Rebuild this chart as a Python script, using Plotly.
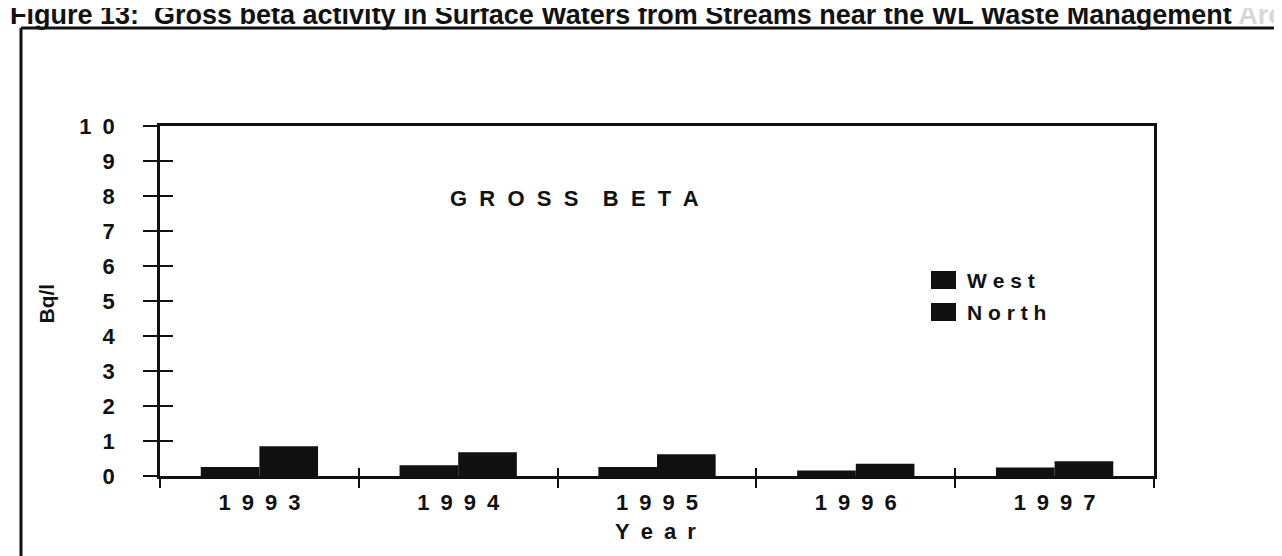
import plotly.graph_objects as go

years = ["1993", "1994", "1995", "1996", "1997"]
west = [0.26, 0.31, 0.26, 0.16, 0.24]
north = [0.85, 0.68, 0.62, 0.35, 0.42]
series_names = ["West", "North"]
y_ticks = list(range(0, 11))
y_ticktext = ["0", "1", "2", "3", "4", "5", "6", "7", "8", "9", "1\u20020"]

SEP = "\u2002"


def spaced(s, sep=SEP):
    return sep.join(list(s))


W, H = 1282, 556
L, R, T, B = 152, 1146, 118, 468
pw, ph = R - L, B - T


def px(x):
    return (x - L) / pw


def py(y):
    return (B - y) / ph


FONT = "Liberation Sans, Arial, sans-serif"
INK = "#111111"

fig = go.Figure()
fig.add_trace(go.Bar(x=years, y=west, name=series_names[0], marker=dict(color=INK, line=dict(width=0))))
fig.add_trace(go.Bar(x=years, y=north, name=series_names[1], marker=dict(color=INK, line=dict(width=0))))
# empty trace carrying the overlay axes (inside half of the crossing ticks)
fig.add_trace(go.Scatter(x=years, y=[None] * 5, xaxis="x2", yaxis="y2", showlegend=False, hoverinfo="skip"))

fig.update_layout(
    width=W, height=H,
    margin=dict(l=L, r=W - R, t=T, b=H - B),
    paper_bgcolor="white", plot_bgcolor="white",
    font=dict(family=FONT, color=INK, size=22, weight="bold"),
    barmode="group", bargap=0.41, bargroupgap=0,
    showlegend=False,
    xaxis=dict(type="category", categoryorder="array", categoryarray=years,
               tickvals=years, ticktext=[spaced(y) for y in years],
               tickson="boundaries", ticks="outside", ticklen=9, tickwidth=2, tickcolor=INK,
               showline=True, linewidth=2.5, linecolor=INK, mirror=True,
               showgrid=False, zeroline=False, ticklabelstandoff=5,
               tickfont=dict(size=22, family=FONT, weight="bold")),
    yaxis=dict(range=[0, 10], tickvals=y_ticks, ticktext=y_ticktext,
               ticks="outside", ticklen=14, tickwidth=2, tickcolor=INK,
               showline=True, linewidth=2.5, linecolor=INK, mirror=True,
               showgrid=False, zeroline=False, ticklabelstandoff=24,
               tickfont=dict(size=22, family=FONT, weight="bold")),
    xaxis2=dict(type="category", categoryorder="array", categoryarray=years, overlaying="x",
                tickson="boundaries", ticks="inside", ticklen=8, tickwidth=2, tickcolor=INK,
                showticklabels=False, showgrid=False, zeroline=False, showline=False, matches="x"),
    yaxis2=dict(range=[0, 10], tickvals=y_ticks, overlaying="y", side="left",
                ticks="inside", ticklen=13, tickwidth=2, tickcolor=INK,
                showticklabels=False, showgrid=False, zeroline=False, showline=False),
)

# axis titles
fig.add_annotation(text=spaced("Year"), x=px(647), y=py(538), xref="paper", yref="paper",
                   showarrow=False, font=dict(size=22, family=FONT, weight="bold", color=INK))
fig.add_annotation(text="Bq/l", x=px(24), y=py(296), xref="paper", yref="paper", textangle=-90,
                   showarrow=False, font=dict(size=21, family=FONT, weight="bold", color=INK))

# chart label inside plot
fig.add_annotation(text=spaced("GROSS", "  ") + "    " + spaced("BETA", "  "), x=px(566), y=py(176),
                   xref="paper", yref="paper", showarrow=False,
                   font=dict(size=22, family=FONT, weight="bold", color=INK))

# legend (drawn manually to match the large swatches)
leg_rows = [272, 304]
for name, yc in zip(series_names, leg_rows):
    fig.add_shape(type="rect", xref="paper", yref="paper", x0=px(923), x1=px(948),
                  y0=py(yc - 9), y1=py(yc + 9), fillcolor=INK, line=dict(width=0))
    fig.add_annotation(text=spaced(name, " "), x=px(957), y=py(yc), xref="paper", yref="paper",
                       xanchor="left", yanchor="middle", showarrow=False,
                       font=dict(size=21, family=FONT, weight="bold", color=INK))

# page caption, clipped at the top edge as in the scan
fig.add_annotation(text="Figure 13:  Gross beta activity in Surface Waters from Streams near the WL Waste Management <span style='color:#d8d8d8'>Area</span>",
                   x=px(0), y=py(7), xref="paper", yref="paper", xanchor="left", yanchor="middle",
                   showarrow=False, font=dict(size=27, family=FONT, weight="bold", color=INK))

# outer frame (left and top edges)
fig.add_shape(type="line", xref="paper", yref="paper", x0=px(13), x1=px(13), y0=py(20), y1=py(560),
              line=dict(color=INK, width=3))
fig.add_shape(type="line", xref="paper", yref="paper", x0=px(13), x1=px(1285), y0=py(20), y1=py(20),
              line=dict(color=INK, width=3))

fig.write_html("out.html")
